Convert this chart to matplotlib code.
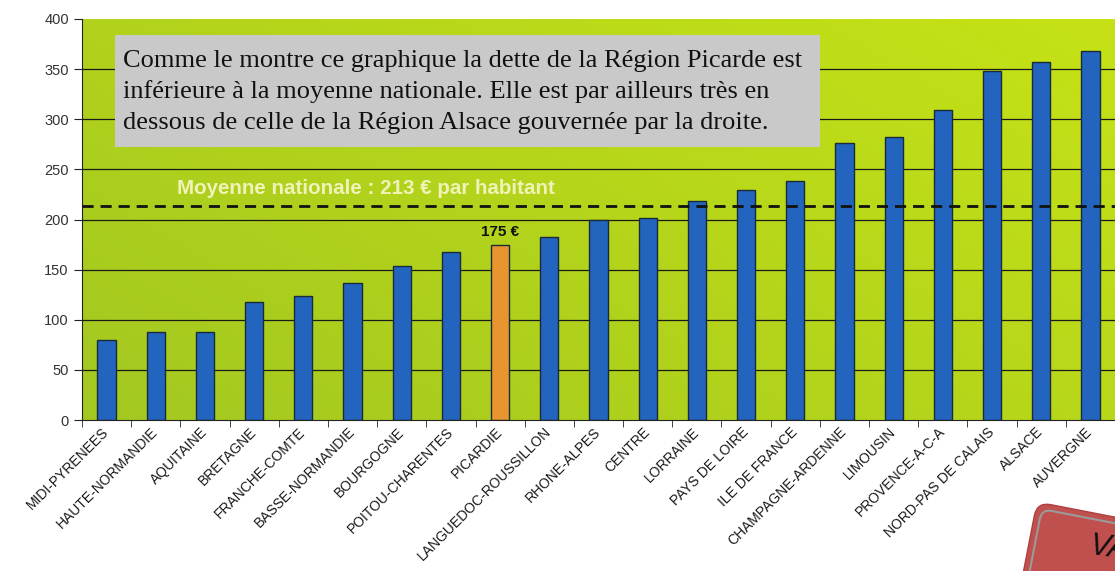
import numpy as np
import matplotlib.pyplot as plt
import matplotlib.transforms as mtransforms
from matplotlib.patches import Rectangle, FancyBboxPatch

# Regions sorted by debt per inhabitant (euros)
regions = ['MIDI-PYRENEES', 'HAUTE-NORMANDIE', 'AQUITAINE', 'BRETAGNE', 'FRANCHE-COMTE',
           'BASSE-NORMANDIE', 'BOURGOGNE', 'POITOU-CHARENTES', 'PICARDIE',
           'LANGUEDOC-ROUSSILLON', 'RHONE-ALPES', 'CENTRE', 'LORRAINE', 'PAYS DE LOIRE',
           'ILE DE FRANCE', 'CHAMPAGNE-ARDENNE', 'LIMOUSIN', 'PROVENCE-A-C-A',
           'NORD-PAS DE CALAIS', 'ALSACE', 'AUVERGNE']
dette = [80, 88, 88, 118, 124, 137, 154, 168, 175, 183, 200, 201, 218, 229, 238,
         276, 282, 309, 348, 357, 368]
moyenne = 213
highlight = 'PICARDIE'

y_ticks = [0, 50, 100, 150, 200, 250, 300, 350, 400]

comment_lines = [
    "Comme le montre ce graphique la dette de la Région Picarde est",
    "inférieure à la moyenne nationale. Elle est par ailleurs très en",
    "dessous de celle de la Région Alsace gouvernée par la droite.",
]

plt.rcParams['font.family'] = ['Liberation Sans', 'DejaVu Sans']

fig = plt.figure(figsize=(11.15, 5.71), dpi=100)
fig.patch.set_facecolor('white')
ax = fig.add_axes([82 / 1115, 1 - 420 / 571, 1 - 82 / 1115, (420 - 19) / 571])

x = np.arange(len(regions))
ax.set_xlim(-0.5, len(regions) - 0.5)
ax.set_ylim(0, 400)

# yellow-green gradient background
gx, gy = np.meshgrid(np.linspace(0, 1, 200), np.linspace(0, 1, 100))
t = np.clip(0.6 * gx + 0.4 * gy, 0, 1)[..., None]
c_low = np.array([163, 200, 32]) / 255
c_high = np.array([198, 226, 22]) / 255
grad = c_low * (1 - t) + c_high * t
ax.imshow(grad, extent=(-0.5, len(regions) - 0.5, 0, 400), origin='lower',
          aspect='auto', zorder=0)

for yv in y_ticks[1:-1]:
    ax.axhline(yv, color='#1a1a1a', lw=0.9, zorder=1)

colors = ['#e8952f' if r == highlight else '#2364be' for r in regions]
ax.bar(x, dette, width=0.37, color=colors, edgecolor='#1a2a3a', linewidth=1, zorder=2)

ax.axhline(moyenne, color='#111111', lw=2, linestyle=(0, (4, 2.5)), zorder=3)
ax.text(1.43, moyenne + 12, f'Moyenne nationale : {moyenne} € par habitant',
        color='#f2f2b8', fontsize=14.8, fontweight='bold', ha='left', va='baseline', zorder=4)

i_h = regions.index(highlight)
ax.annotate(f'{dette[i_h]} €', (x[i_h], dette[i_h]), xytext=(0, 4),
            textcoords='offset points', ha='center', va='bottom',
            fontsize=11, fontweight='bold', color='#111111', zorder=4)

# axes styling
for s in ['top', 'right']:
    ax.spines[s].set_visible(False)
ax.spines['left'].set_color('#222222')
ax.spines['bottom'].set_color('#222222')
ax.set_yticks(y_ticks)
ax.tick_params(axis='y', length=6, color='#222222', labelsize=10.5, labelcolor='#333333')
ax.set_xticks(x)
ax.set_xticklabels(regions, rotation=45, ha='right', va='center',
                   rotation_mode='anchor', fontsize=10, color='#1a1a1a')
shift = mtransforms.ScaledTranslation(-6 / 100, 0, fig.dpi_scale_trans)
for lbl in ax.get_xticklabels():
    lbl.set_transform(lbl.get_transform() + shift)
ax.tick_params(axis='x', length=0, pad=7)
ax.set_xticks(np.arange(-0.5, len(regions)), minor=True)
ax.tick_params(axis='x', which='minor', length=5, color='#222222')

# overlay in pixel coordinates for the comment box and the stamp
ov = fig.add_axes([0, 0, 1, 1], zorder=5)
ov.set_xlim(0, 1115)
ov.set_ylim(571, 0)
ov.axis('off')

ov.add_patch(Rectangle((115, 35), 705, 112, facecolor='#c9c9c9', edgecolor='none'))
for k, line in enumerate(comment_lines):
    ov.text(123, 67 + k * 31, line, family=['Liberation Serif', 'DejaVu Serif'],
            fontsize=19, color='#111111', ha='left', va='baseline')

rot = mtransforms.Affine2D().rotate_deg_around(1037, 502, 11) + ov.transData
ov.add_patch(FancyBboxPatch((1037, 502), 150, 110, boxstyle='round,pad=0,rounding_size=14',
                            facecolor='#c0504d', edgecolor='#b04040', lw=1, transform=rot))
ov.add_patch(FancyBboxPatch((1043, 508), 140, 100, boxstyle='round,pad=0,rounding_size=10',
                            facecolor='none', edgecolor='#9a9a9a', lw=1.5, transform=rot))
ov.text(1087, 559, 'VA', fontsize=22, style='italic', color='#111111',
        rotation=-8, ha='left', va='baseline')

fig.savefig('out.png', dpi=100)
